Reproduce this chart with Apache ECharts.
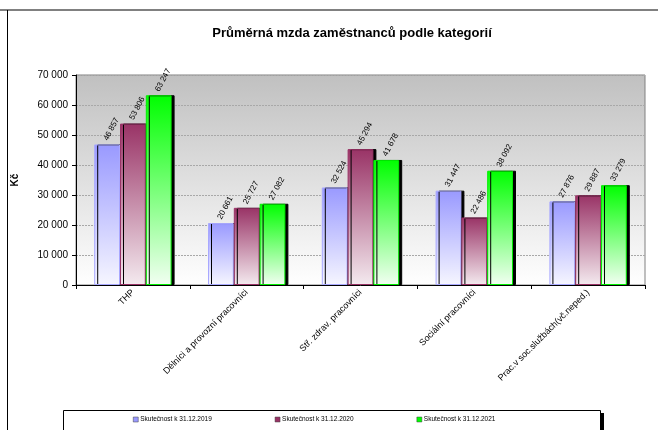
<!DOCTYPE html>
<html><head><meta charset="utf-8">
<script src="https://cdn.jsdelivr.net/npm/echarts@6/dist/echarts.min.js"></script>
<style>html,body{margin:0;padding:0;background:#fff}#c{width:658px;height:430px}</style>
</head><body><div id="c"></div>
<script>
const categories = ['THP', 'Dělníci a provozní pracovníci', 'Stř. zdrav. pracovníci', 'Sociální pracovníci', 'Prac.v soc.službách(vč.neped.)'];
const seriesNames = ['Skutečnost k 31.12.2019', 'Skutečnost k 31.12.2020', 'Skutečnost k 31.12.2021'];
const values2019 = [46857, 20661, 32524, 31447, 27876];
const values2020 = [53806, 25727, 45294, 22486, 29887];
const values2021 = [63247, 27082, 41678, 38092, 33279];
const yTicks = { min: 0, max: 70000, interval: 10000 };

const FONT = '"Liberation Sans", Arial, sans-serif';
function fmt(v){ return String(v).replace(/\B(?=(\d{3})+(?!\d))/g, ' '); }
function grad(top, bottom){
  return new echarts.graphic.LinearGradient(0,0,0,1,[{offset:0,color:top},{offset:1,color:bottom}]);
}
const colors = [
  {top:'#9999ff', bottom:'#f6f6ff', border:'#a8a8ff'},
  {top:'#993366', bottom:'#f4eaef', border:'#993366'},
  {top:'#00ff00', bottom:'#f2fff2', border:'#00ee00'}
];
const data = [values2019, values2020, values2021];

const chart = echarts.init(document.getElementById('c'), null, {renderer:'canvas'});
chart.setOption({
  animation:false,
  textStyle:{fontFamily:FONT},
  title:{text:'Průměrná mzda zaměstnanců podle kategorií', left:347, textAlign:'center', top:22,
    textStyle:{fontFamily:FONT, fontSize:13, fontWeight:'bold', color:'#000'}},
  graphic:[
    {type:'line', shape:{x1:0,y1:10,x2:658,y2:10}, style:{stroke:'#808080', lineWidth:2}, z:-1},
    {type:'line', shape:{x1:7.5,y1:10,x2:7.5,y2:430}, style:{stroke:'#000', lineWidth:1}, z:-1},
    {type:'rect', shape:{x:66,y:413,width:538,height:22}, style:{fill:'#000'}, z:-2},
    {type:'rect', shape:{x:63.5,y:410.5,width:537,height:22}, style:{fill:'#fff', stroke:'#000', lineWidth:1}, z:-1}
  ],
  legend:{left:133, top:416, padding:0, itemGap:63, itemWidth:5, itemHeight:5, icon:'rect',
    data:seriesNames.map((n,i)=>({name:n, itemStyle:{color:colors[i].top, borderColor:'#444', borderWidth:0.5}})),
    textStyle:{fontFamily:FONT, fontSize:6.5, color:'#000', padding:[0,0,0,-3]}},
  grid:{left:76, right:13, top:75, bottom:145, show:true, borderColor:'#808080', borderWidth:1,
    backgroundColor:grad('#c0c0c0','#ffffff')},
  xAxis:{type:'category', data:categories,
    axisLine:{lineStyle:{color:'#000', width:1}},
    axisTick:{show:true, length:4, lineStyle:{color:'#000'}},
    axisLabel:{rotate:45, fontFamily:FONT, fontSize:9, color:'#000', margin:6, interval:0}},
  yAxis:{type:'value', min:yTicks.min, max:yTicks.max, interval:yTicks.interval,
    name:'Kč', nameLocation:'middle', nameGap:56, nameRotate:90,
    nameTextStyle:{fontFamily:FONT, fontSize:10, fontWeight:'bold', color:'#000'},
    axisLine:{show:true, lineStyle:{color:'#000'}},
    axisTick:{show:true, length:4, lineStyle:{color:'#000'}},
    splitLine:{show:true, lineStyle:{color:'#a8a8a8', type:[2,1], width:1}},
    axisLabel:{fontFamily:FONT, fontSize:10, color:'#000', margin:8, formatter:v=>fmt(v)}},
  series: seriesNames.map((n,i)=>({
    name:n, type:'bar', data:data[i], barGap:'0%', barCategoryGap:'32%',
    itemStyle:{color:grad(colors[i].top, colors[i].bottom), borderColor:colors[i].border, borderWidth:1,
      shadowColor:'#000', shadowOffsetX:3, shadowOffsetY:0, shadowBlur:0},
    label:{show:true, position:'top', rotate:62, align:'left', verticalAlign:'middle', distance:7, offset:[-3,0],
      fontFamily:FONT, fontSize:8, color:'#000', formatter:p=>fmt(p.value)}
  }))
});
</script></body></html>
